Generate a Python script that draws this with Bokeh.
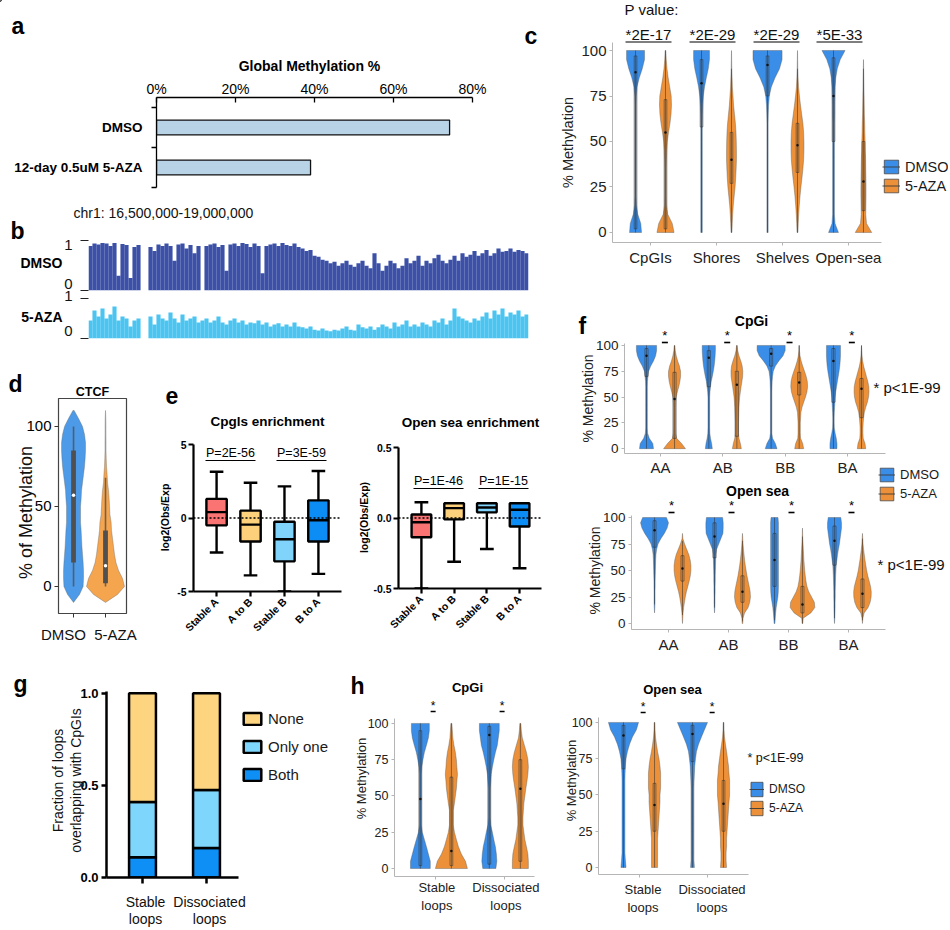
import math
from bokeh.plotting import figure
from bokeh.models import (Range1d, LinearAxis, FixedTicker, Label, Span,
                          Legend, LegendItem, ColumnDataSource, GridBox)
from bokeh.layouts import row, column
from bokeh.embed import file_html
from bokeh.resources import INLINE

FONT = "Liberation Sans"
PAGE_W, PAGE_H = 948, 928

# ======================= DATA =======================
# a: global methylation
a_groups = ["DMSO", "12-day 0.5uM 5-AZA"]
a_values = [0.742, 0.39]
a_tick_values = [0.0, 0.2, 0.4, 0.6, 0.8]
a_tick_labels = ["0%", "20%", "40%", "60%", "80%"]

# b: genome track chr1 16.5-19.0 Mb (mean methylation per bin)
b_region = "chr1: 16,500,000-19,000,000"
b_start_mb = 16.5
b_end_mb = 19.0
b_tick_labels = ["0", "1"]
b_dmso = [0.9, 0.95, 0.93, 0.96, 0.95, 0.9, 0.96, 0.3, 0.94, 0.92,
          0.25, 0.88, 0.92, 0, 0, 0.88, 0.8, 0.93, 0.9, 0.95,
          0.9, 0.6, 0.93, 0.95, 0.85, 0.92, 0.75, 0.9, 0, 0.9,
          0.93, 0.95, 0.88, 0.92, 0.4, 0.93, 0.95, 0.9, 0.96, 0.94,
          0.88, 0.95, 0.9, 0.35, 0.9, 0.93, 0.95, 0.9, 0.96, 0.92,
          0.9, 0.95, 0.88, 0.85, 0.8, 0.82, 0.7, 0.68, 0.62, 0.6,
          0.55, 0.58, 0.5, 0.55, 0.6, 0.52, 0.48, 0.55, 0.6, 0.5,
          0.45, 0.75, 0.55, 0.4, 0.5, 0.6, 0.55, 0.45, 0.5, 0.65,
          0.55, 0.6, 0.7, 0.5, 0.6, 0.55, 0.65, 0.72, 0.6, 0.55,
          0.62, 0.7, 0.6, 0.75, 0.68, 0.72, 0.8, 0.7, 0.75, 0.82,
          0.7, 0.75, 0.85, 0.78, 0.8, 0.85, 0.78, 0.82, 0.8, 0.75]
b_aza = [0.45, 0.7, 0.55, 0.75, 0.5, 0.6, 0.8, 0.45, 0.55, 0.5,
         0.3, 0.45, 0.5, 0, 0, 0.55, 0.35, 0.6, 0.5, 0.45,
         0.65, 0.5, 0.4, 0.6, 0.45, 0.5, 0.55, 0.4, 0.45, 0.5,
         0.4, 0.45, 0.55, 0.4, 0.35, 0.45, 0.5, 0.4, 0.45, 0.35,
         0.4, 0.38, 0.45, 0.35, 0.4, 0.3, 0.35, 0.38, 0.3, 0.35,
         0.3, 0.4, 0.3, 0.28, 0.25, 0.3, 0.22, 0.2, 0.25, 0.2,
         0.18, 0.22, 0.2, 0.25, 0.3, 0.22, 0.2, 0.35, 0.28, 0.25,
         0.3, 0.22, 0.28, 0.35, 0.3, 0.25, 0.4, 0.3, 0.35, 0.45,
         0.3, 0.35, 0.3, 0.4, 0.35, 0.3, 0.45, 0.4, 0.5, 0.35,
         0.45, 0.75, 0.55, 0.5, 0.45, 0.4, 0.5, 0.45, 0.55, 0.65,
         0.5, 0.7, 0.6, 0.75, 0.55, 0.65, 0.6, 0.7, 0.55, 0.6]

# common violin y levels (% methylation)
violin_levels = [0, 5, 10, 15, 20, 25, 30, 35, 40, 45, 50,
                 55, 60, 65, 70, 75, 80, 85, 90, 95, 100]
pct_ticks = [0, 25, 50, 75, 100]
pct_labels = ["0", "25", "50", "75", "100"]

# c: methylation by region
c_regions = ["CpGIs", "Shores", "Shelves", "Open-sea"]
c_pvalues = ["*2E-17", "*2E-29", "*2E-29", "*5E-33"]
c_dmso_density = [
    [0.4, 0.35, 0.15, 0.06, 0.04, 0.04, 0.04, 0.04, 0.04, 0.04, 0.04, 0.04, 0.04, 0.04, 0.04, 0.05, 0.1, 0.25, 0.45, 0.6, 0.6],
    [0.05, 0.05, 0.05, 0.05, 0.05, 0.05, 0.05, 0.05, 0.05, 0.05, 0.05, 0.05, 0.05, 0.06, 0.08, 0.12, 0.2, 0.32, 0.45, 0.53, 0.53],
    [0.04, 0.04, 0.04, 0.04, 0.04, 0.04, 0.04, 0.04, 0.04, 0.04, 0.04, 0.04, 0.04, 0.05, 0.07, 0.12, 0.25, 0.5, 0.8, 0.97, 0.97],
    [0.33, 0.1, 0.06, 0.06, 0.06, 0.06, 0.06, 0.06, 0.06, 0.06, 0.06, 0.06, 0.06, 0.07, 0.07, 0.08, 0.1, 0.15, 0.25, 0.45, 0.77],
]
c_aza_density = [
    [0.57, 0.45, 0.15, 0.06, 0.05, 0.05, 0.05, 0.05, 0.06, 0.08, 0.12, 0.2, 0.3, 0.37, 0.4, 0.38, 0.28, 0.18, 0.1, 0.05, 0.02],
    [0.03, 0.05, 0.08, 0.12, 0.18, 0.24, 0.28, 0.31, 0.33, 0.33, 0.32, 0.3, 0.26, 0.2, 0.14, 0.1, 0.06, 0.04, 0.02, 0.01, 0.0],
    [0.03, 0.05, 0.08, 0.12, 0.17, 0.23, 0.3, 0.36, 0.41, 0.43, 0.43, 0.41, 0.36, 0.28, 0.2, 0.13, 0.07, 0.04, 0.02, 0.01, 0.0],
    [0.55, 0.2, 0.15, 0.16, 0.17, 0.17, 0.16, 0.15, 0.14, 0.12, 0.11, 0.09, 0.08, 0.06, 0.05, 0.04, 0.03, 0.02, 0.01, 0.0, 0.0],
]
# (min, q1, median, q3, max)
c_dmso_stats = [(0, 2, 88, 97, 100), (0, 58, 82, 95, 100), (0, 75, 92, 97, 100), (0, 50, 75, 96, 100)]
c_aza_stats = [(0, 2, 55, 73, 100), (0, 27, 40, 55, 90), (0, 33, 48, 60, 90), (0, 12, 28, 50, 90)]

# d: CTCF sites
d_groups = ["DMSO", "5-AZA"]
d_levels = [-10, -5, 0, 5, 10, 15, 20, 25, 30, 35, 40, 45, 50,
            55, 60, 65, 70, 75, 80, 85, 90, 95, 100, 105, 110]
d_dmso_density = [0, 0.3, 0.48, 0.5, 0.5, 0.48, 0.45, 0.42, 0.4, 0.38, 0.35, 0.35, 0.35,
                  0.38, 0.4, 0.45, 0.5, 0.55, 0.58, 0.6, 0.6, 0.55, 0.45, 0.25, 0.03]
d_aza_density = [0, 0.6, 0.95, 0.85, 0.65, 0.52, 0.45, 0.4, 0.35, 0.3, 0.28, 0.22, 0.2,
                 0.18, 0.15, 0.1, 0.08, 0.05, 0.035, 0.025, 0.025, 0.02, 0.02, 0.015, 0]
d_stats = [(0, 15, 57, 85, 100), (0, 2, 13, 35, 68)]

# e: enrichment box plots (min, q1, median, q3, max)
e_groups = ["Stable A", "A to B", "Stable B", "B to A"]
e_cpg_stats = [(-2.35, -0.5, 0.4, 1.3, 3.15), (-3.9, -1.6, -0.45, 0.5, 2.4),
               (-5.0, -2.95, -1.45, -0.25, 2.15), (-3.8, -1.6, -0.15, 1.2, 3.2)]
e_open_stats = [(-0.5, -0.136, -0.03, 0.025, 0.112), (-0.31, -0.01, 0.07, 0.105, 0.105),
                (-0.22, 0.04, 0.074, 0.105, 0.105), (-0.356, -0.06, 0.058, 0.105, 0.105)]
e_cpg_pvalues = ["P=2E-56", "P=3E-59"]
e_open_pvalues = ["P=1E-46", "P=1E-15"]

# f: compartment switching
f_groups = ["AA", "AB", "BB", "BA"]
f_cpg_dmso_density = [
    [0.5, 0.45, 0.2, 0.08, 0.06, 0.06, 0.06, 0.06, 0.06, 0.06, 0.06, 0.06, 0.06, 0.07, 0.1, 0.15, 0.3, 0.5, 0.65, 0.72, 0.72],
    [0.25, 0.2, 0.12, 0.07, 0.06, 0.06, 0.06, 0.06, 0.06, 0.06, 0.06, 0.08, 0.12, 0.17, 0.25, 0.32, 0.38, 0.42, 0.45, 0.47, 0.47],
    [0.42, 0.3, 0.1, 0.05, 0.05, 0.05, 0.05, 0.05, 0.05, 0.05, 0.05, 0.05, 0.06, 0.07, 0.1, 0.15, 0.3, 0.55, 0.85, 1.0, 1.0],
    [0.25, 0.25, 0.2, 0.12, 0.06, 0.05, 0.05, 0.06, 0.08, 0.1, 0.12, 0.16, 0.22, 0.28, 0.34, 0.4, 0.45, 0.48, 0.5, 0.5, 0.5],
]
f_cpg_aza_density = [
    [0.78, 0.5, 0.15, 0.08, 0.07, 0.07, 0.07, 0.07, 0.07, 0.08, 0.12, 0.2, 0.3, 0.38, 0.43, 0.43, 0.35, 0.22, 0.12, 0.05, 0.02],
    [0.32, 0.25, 0.15, 0.12, 0.12, 0.12, 0.13, 0.14, 0.15, 0.17, 0.2, 0.25, 0.3, 0.36, 0.41, 0.42, 0.38, 0.28, 0.15, 0.06, 0.02],
    [0.32, 0.25, 0.1, 0.08, 0.08, 0.08, 0.1, 0.12, 0.2, 0.32, 0.45, 0.55, 0.6, 0.58, 0.5, 0.38, 0.25, 0.14, 0.06, 0.02, 0.01],
    [0.3, 0.25, 0.12, 0.1, 0.1, 0.12, 0.15, 0.2, 0.3, 0.42, 0.5, 0.53, 0.52, 0.45, 0.35, 0.25, 0.15, 0.08, 0.04, 0.02, 0.0],
]
f_cpg_dmso_stats = [(0, 70, 90, 97, 100), (0, 60, 88, 95, 100), (0, 80, 92, 97, 100), (0, 45, 85, 97, 100)]
f_cpg_aza_stats = [(0, 10, 48, 74, 100), (0, 12, 62, 75, 100), (0, 52, 64, 74, 100), (0, 30, 58, 68, 100)]
f_open_dmso_density = [
    [0, 0, 0, 0.02, 0.03, 0.03, 0.03, 0.04, 0.04, 0.05, 0.06, 0.07, 0.08, 0.1, 0.15, 0.25, 0.45, 0.7, 0.9, 1.0, 0.85],
    [0, 0, 0, 0.02, 0.03, 0.03, 0.04, 0.04, 0.05, 0.05, 0.06, 0.07, 0.08, 0.1, 0.15, 0.3, 0.45, 0.6, 0.62, 0.62, 0.58],
    [0.03, 0.05, 0.08, 0.12, 0.18, 0.24, 0.27, 0.28, 0.28, 0.28, 0.28, 0.28, 0.28, 0.28, 0.28, 0.28, 0.28, 0.28, 0.28, 0.28, 0.25],
    [0, 0.02, 0.03, 0.04, 0.04, 0.05, 0.05, 0.06, 0.07, 0.08, 0.1, 0.12, 0.17, 0.22, 0.28, 0.35, 0.4, 0.45, 0.5, 0.5, 0.45],
]
f_open_aza_density = [
    [0, 0.02, 0.04, 0.08, 0.14, 0.2, 0.28, 0.38, 0.48, 0.56, 0.6, 0.6, 0.55, 0.45, 0.3, 0.15, 0.03, 0, 0, 0, 0],
    [0.02, 0.04, 0.15, 0.4, 0.52, 0.57, 0.55, 0.48, 0.4, 0.32, 0.26, 0.2, 0.15, 0.11, 0.07, 0.04, 0.02, 0, 0, 0, 0],
    [0.02, 0.05, 0.6, 0.88, 0.85, 0.65, 0.45, 0.32, 0.25, 0.2, 0.16, 0.13, 0.1, 0.08, 0.06, 0.04, 0.02, 0.01, 0, 0, 0],
    [0, 0.03, 0.12, 0.4, 0.55, 0.62, 0.63, 0.58, 0.48, 0.38, 0.3, 0.24, 0.18, 0.13, 0.08, 0.04, 0.02, 0, 0, 0, 0],
]
f_open_dmso_stats = [(18, 72, 88, 97, 100), (15, 62, 82, 95, 100), (3, 35, 60, 85, 100), (5, 55, 78, 92, 100)]
f_open_aza_stats = [(8, 40, 52, 64, 78), (2, 20, 30, 45, 78), (0, 10, 18, 35, 82), (3, 15, 28, 42, 80)]

# g: loops overlapping CpGIs
g_groups = ["Stable loops", "Dissociated loops"]
g_both = [0.11, 0.16]
g_only_one = [0.30, 0.315]
g_none = [0.59, 0.525]

# h: loops methylation
h_groups = ["Stable loops", "Dissociated loops"]
h_cpg_dmso_density = [
    [0.62, 0.62, 0.5, 0.38, 0.25, 0.12, 0.06, 0.06, 0.06, 0.06, 0.06, 0.06, 0.06, 0.06, 0.09, 0.16, 0.25, 0.38, 0.5, 0.56, 0.56],
    [0.41, 0.47, 0.44, 0.38, 0.28, 0.19, 0.09, 0.06, 0.06, 0.06, 0.06, 0.06, 0.09, 0.12, 0.19, 0.28, 0.38, 0.5, 0.56, 0.62, 0.62],
]
h_cpg_aza_density = [
    [1.0, 0.88, 0.62, 0.44, 0.31, 0.19, 0.12, 0.12, 0.12, 0.19, 0.25, 0.31, 0.34, 0.38, 0.34, 0.31, 0.25, 0.16, 0.09, 0.06, 0.03],
    [0.5, 0.5, 0.47, 0.38, 0.28, 0.22, 0.16, 0.16, 0.19, 0.22, 0.28, 0.34, 0.41, 0.47, 0.5, 0.47, 0.38, 0.25, 0.12, 0.06, 0.03],
]
h_cpg_dmso_stats = [(0, 2, 48, 95, 100), (0, 3, 92, 98, 100)]
h_cpg_aza_stats = [(0, 2, 12, 63, 100), (0, 5, 55, 75, 100)]
h_open_dmso_density = [
    [0.16, 0.12, 0.09, 0.09, 0.09, 0.09, 0.09, 0.09, 0.09, 0.09, 0.09, 0.09, 0.09, 0.1, 0.12, 0.16, 0.25, 0.38, 0.56, 0.81, 0.94],
    [0.12, 0.09, 0.09, 0.09, 0.09, 0.09, 0.09, 0.09, 0.09, 0.09, 0.09, 0.09, 0.1, 0.12, 0.14, 0.19, 0.25, 0.38, 0.56, 0.75, 0.94],
]
h_open_aza_density = [
    [0.19, 0.19, 0.19, 0.19, 0.19, 0.22, 0.25, 0.28, 0.31, 0.34, 0.34, 0.38, 0.38, 0.38, 0.34, 0.28, 0.19, 0.12, 0.06, 0.03, 0.02],
    [0.19, 0.16, 0.16, 0.19, 0.19, 0.22, 0.25, 0.28, 0.31, 0.34, 0.38, 0.38, 0.38, 0.34, 0.31, 0.25, 0.19, 0.12, 0.06, 0.03, 0.02],
]
h_open_dmso_stats = [(0, 68, 91, 98, 100), (0, 73, 92, 98, 100)]
h_open_aza_stats = [(0, 25, 43, 58, 100), (0, 25, 44, 60, 100)]

# ======================= STYLE =======================
BLUE = "#3b8ee8"
ORANGE = "#ec9139"
GRAYAX = "#b5b5b5"
E_COLORS = ["#fa7474", "#fdd17c", "#80d4fb", "#0c8df5"]
G_COLORS = ["#0d8ff5", "#7fd6fc", "#fdd47f"]
HALF = math.pi / 2


# ======================= HELPERS =======================
class Panel:
    """A figure occupying page rect `rect`, with its plot frame at page rect `frame`."""

    def __init__(self, rect, frame, xr, yr, outline=None, outline_width=1.0):
        x0, y0, x1, y1 = rect
        fl, ft, fr, fb = frame
        self.fl, self.ft, self.fr, self.fb = fl, ft, fr, fb
        self.xr, self.yr = xr, yr
        self.p = figure(width=x1 - x0, height=y1 - y0,
                        x_range=Range1d(xr[0], xr[1]), y_range=Range1d(yr[0], yr[1]),
                        x_axis_location=None, y_axis_location=None,
                        toolbar_location=None, output_backend="svg",
                        min_border_left=fl - x0, min_border_right=x1 - fr,
                        min_border_top=ft - y0, min_border_bottom=y1 - fb,
                        outline_line_color=outline, outline_line_width=outline_width)
        self.p.grid.visible = False
        self.sx = (fr - fl) / (xr[1] - xr[0])
        self.sy = (fb - ft) / (yr[1] - yr[0])

    def px(self, dx):   # data x -> page x
        return self.fl + (dx - self.xr[0]) * self.sx

    def py(self, dy):   # data y -> page y
        return self.fb - (dy - self.yr[0]) * self.sy


def add_axis(P, side, ticks, labels=None, size=14, bold=False, text_color="#000000",
             line_color="#000000", line_width=1.0, tick_color=None, tick_out=4,
             tick_in=0, standoff=4, orient="horizontal", minor=None, minor_out=0,
             text_alpha=1.0):
    ax = LinearAxis(ticker=FixedTicker(ticks=list(ticks), minor_ticks=list(minor or [])))
    tc = tick_color if tick_color is not None else line_color
    ax.axis_line_color = line_color
    ax.axis_line_width = line_width
    ax.major_tick_line_color = tc
    ax.major_tick_line_width = line_width
    ax.major_tick_out = tick_out
    ax.major_tick_in = tick_in
    ax.minor_tick_line_color = tc
    ax.minor_tick_line_width = line_width
    ax.minor_tick_out = minor_out
    ax.minor_tick_in = 0
    ax.major_label_text_font = FONT
    ax.major_label_text_font_size = f"{size}px"
    ax.major_label_text_font_style = "bold" if bold else "normal"
    ax.major_label_text_color = text_color
    ax.major_label_text_alpha = text_alpha
    ax.major_label_standoff = standoff
    ax.major_label_orientation = orient
    if labels is not None:
        ax.major_label_overrides = {t: l for t, l in zip(ticks, labels)}
    P.p.add_layout(ax, side)
    return ax


def violins(P, centers, dens_list, levels, scale, color, stats, box_w,
            edge="#555555", inner="#333333", med_color="#111111", med_size=2.5,
            box_fill=None, whisk_w=0.7, box_line_w=0.7):
    xs, ys = [], []
    for c, dens in zip(centers, dens_list):
        nz = [i for i, d in enumerate(dens) if d > 0]
        i0 = max(nz[0] - 1, 0)
        i1 = min(nz[-1] + 1, len(dens) - 1)
        lv = list(levels[i0:i1 + 1])
        dv = list(dens[i0:i1 + 1])
        xs.append([c + d * scale for d in dv] + [c - d * scale for d in dv[::-1]])
        ys.append(lv + lv[::-1])
    P.p.patches(xs, ys, fill_color=color, line_color=edge, line_alpha=0.55, line_width=0.7)
    lo = [s[0] for s in stats]
    q1 = [s[1] for s in stats]
    md = [s[2] for s in stats]
    q3 = [s[3] for s in stats]
    hi = [s[4] for s in stats]
    P.p.segment(x0=centers, y0=lo, x1=centers, y1=hi, line_color=inner,
                line_width=whisk_w, line_alpha=0.8)
    if box_fill is None:
        P.p.vbar(x=centers, bottom=q1, top=q3, width=box_w, fill_alpha=0,
                 line_color=inner, line_width=box_line_w, line_alpha=0.8)
    else:
        P.p.vbar(x=centers, bottom=q1, top=q3, width=box_w, fill_color=box_fill,
                 line_color=None)
    P.p.scatter(x=centers, y=md, size=med_size, color=med_color, line_color=None)


def boxplots(P, stats, colors, bw, cw, lw=2.4):
    xs = [i + 1 for i in range(len(stats))]
    lo = [s[0] for s in stats]
    q1 = [s[1] for s in stats]
    md = [s[2] for s in stats]
    q3 = [s[3] for s in stats]
    hi = [s[4] for s in stats]
    P.p.segment(x0=xs, y0=q3, x1=xs, y1=hi, line_color="black", line_width=lw)
    P.p.segment(x0=xs, y0=lo, x1=xs, y1=q1, line_color="black", line_width=lw)
    P.p.segment(x0=[x - cw / 2 for x in xs], y0=hi, x1=[x + cw / 2 for x in xs], y1=hi,
                line_color="black", line_width=lw)
    P.p.segment(x0=[x - cw / 2 for x in xs], y0=lo, x1=[x + cw / 2 for x in xs], y1=lo,
                line_color="black", line_width=lw)
    P.p.vbar(x=xs, bottom=q1, top=q3, width=bw, fill_color=colors, line_color="black",
             line_width=lw)
    P.p.segment(x0=[x - bw / 2 for x in xs], y0=md, x1=[x + bw / 2 for x in xs], y1=md,
                line_color="black", line_width=lw)


# ---- transparent overlay for all free text (page pixel coordinates) ----
OV = figure(width=PAGE_W, height=PAGE_H, x_range=Range1d(0, PAGE_W),
            y_range=Range1d(PAGE_H, 0), x_axis_location=None, y_axis_location=None,
            toolbar_location=None, output_backend="svg",
            min_border=0, min_border_left=0, min_border_right=0,
            min_border_top=0, min_border_bottom=0, outline_line_color=None,
            background_fill_alpha=0, border_fill_alpha=0)
OV.grid.visible = False


def T(x, y, s, size, bold=False, align="center", base="middle", angle=0.0,
      color="#000000"):
    OV.add_layout(Label(x=x, y=y, text=s, text_font=FONT, text_font_size=f"{size}px",
                        text_font_style="bold" if bold else "normal",
                        text_align=align, text_baseline=base, angle=angle,
                        text_color=color))


ul_x0, ul_x1, ul_y, ul_w = [], [], [], []


def UL(x0, x1, y, w=1.1):
    ul_x0.append(x0)
    ul_x1.append(x1)
    ul_y.append(y)
    ul_w.append(w)


def LETTER(x, y, s):
    T(x, y, s, 23, bold=True, align="left", base="alphabetic")


def ov_legend(entries, left, bottom, gw, gh, size, spacing):
    items = [LegendItem(label=lab, renderers=rs) for lab, rs in entries]
    lg = Legend(items=items, location=(left, PAGE_H - bottom), orientation="vertical",
                glyph_width=gw, glyph_height=gh, label_height=gh, label_width=10,
                spacing=spacing, padding=0, margin=0, border_line_color=None,
                background_fill_alpha=0, label_text_font=FONT,
                label_text_color="#1a1a1a",
                label_text_font_size=f"{size}px", label_standoff=5)
    OV.add_layout(lg, "center")


# key glyphs for the legends: one element each, placed outside the visible page
KEY_X = [-60, -50, -50, -60]
KEY_Y = [-60, -60, -50, -50]


def violin_key(color):
    r1 = OV.patches(xs=[KEY_X], ys=[KEY_Y], fill_color=color, line_color="#4a4a4a",
                    line_alpha=0.8, line_width=1.0)
    r2 = OV.segment(x0=[-60], y0=[-55], x1=[-50], y1=[-55], line_color="#3a3a3a",
                    line_width=0.9)
    return [r1, r2]


# ======================= PANEL a =======================
A = Panel((0, 0, 555, 190), (156, 97, 472, 187), (0, 0.8), (0, 2.25))
a_y = [len(a_groups) - i - 0.5 for i in range(len(a_groups))]
A.p.hbar(y=a_y, left=0, right=a_values, height=0.37, fill_color="#b9d3e6",
         line_color="#111111", line_width=1.3)
add_axis(A, "above", a_tick_values, a_tick_labels, size=14, tick_out=0, tick_in=5,
         standoff=1, line_width=1.3)
add_axis(A, "left", a_y, a_groups, size=13.5, bold=True, tick_out=0, standoff=9,
         minor=[0, 1, 2], minor_out=5, line_width=1.3)
LETTER(11, 25, "a")
T(309, 65, "Global Methylation %", 14, bold=True)

# ======================= PANEL b =======================
b_bin = (b_end_mb - b_start_mb) / len(b_dmso)
b_x = [b_start_mb + (i + 0.5) * b_bin for i in range(len(b_dmso))]
B1 = Panel((0, 190, 555, 294), (88, 238, 528, 290), (b_start_mb, b_end_mb), (0, 1.05))
B1.p.vbar(x=b_x, bottom=0, top=b_dmso, width=b_bin * 1.03, fill_color="#3b50a6",
          line_color=None)
add_axis(B1, "left", [0, 1], ["", ""], size=8, line_color=None, tick_color="#222222",
         tick_out=8, standoff=2, line_width=1.2, text_alpha=0)
B2 = Panel((0, 294, 555, 350), (88, 298, 528, 338), (b_start_mb, b_end_mb), (0, 1.0))
B2.p.vbar(x=b_x, bottom=0, top=b_aza, width=b_bin * 1.03, fill_color="#4cc4f0",
          line_color=None)
add_axis(B2, "left", [0, 1], ["", ""], size=8, line_color=None, tick_color="#222222",
         tick_out=8, standoff=2, line_width=1.2, text_alpha=0)
for P_, ys_ in ((B1, (283, 244)), (B2, (330, 295))):
    for lab, yy in zip(b_tick_labels, ys_):
        T(72, yy, lab, 15, align="right", color="#111111")
LETTER(10, 230, "b")
T(73, 212, b_region, 14, align="left", color="#111111")
T(62, 262, "DMSO", 14, bold=True, align="right")
T(62, 316, "5-AZA", 14, bold=True, align="right")

# ======================= PANEL c =======================
C = Panel((555, 0, 948, 300), (612, 42, 881, 242), (0.424, 4.5), (-5.5, 104.4))
c_off = 0.227
violins(C, [i + 1 - c_off for i in range(4)], c_dmso_density, violin_levels, 0.227,
        BLUE, c_dmso_stats, 0.04)
violins(C, [i + 1 + c_off for i in range(4)], c_aza_density, violin_levels, 0.227,
        ORANGE, c_aza_stats, 0.04)
add_axis(C, "left", pct_ticks, pct_labels, size=15, text_color="#222222",
         line_color=GRAYAX, tick_out=3, standoff=3)
add_axis(C, "below", [1, 2, 3, 4], c_regions, size=15, text_color="#222222",
         line_color=GRAYAX, tick_out=3, standoff=3)
LETTER(524, 35, "c")
T(567, 142, "% Methylation", 14.5, angle=HALF, color="#222222")
T(624, 9, "P value:", 15, align="left", color="#111111")
for px_, pv in zip([648, 712, 776, 839], c_pvalues):
    T(px_, 34, pv, 15, color="#111111")
    UL(px_ - 23, px_ + 23, 41.5)
ov_legend([("DMSO", violin_key(BLUE)), ("5-AZA", violin_key(ORANGE))],
          882, 194, 18, 17, 14.5, 2)

# ======================= PANEL d =======================
D = Panel((0, 350, 150, 655), (58, 398, 126, 613), (0.53, 2.656), (-16.9, 117.5),
          outline="#444444", outline_width=1.2)
violins(D, [1], [d_dmso_density], d_levels, 0.625, "#4d9be8", [d_stats[0]], 0.15,
        edge="#666666", inner="#505050", med_color="#ffffff", med_size=3.5,
        box_fill="#505050", whisk_w=1.6)
violins(D, [2], [d_aza_density], d_levels, 0.625, "#f6a54f", [d_stats[1]], 0.15,
        edge="#666666", inner="#505050", med_color="#ffffff", med_size=3.5,
        box_fill="#505050", whisk_w=1.6)
add_axis(D, "left", [0, 50, 100], ["0", "50", "100"], size=15, line_color=None,
         tick_color="#333333", tick_out=4, standoff=3)
add_axis(D, "below", [1, 2], ["", ""], size=8, line_color=None, tick_color="#333333",
         tick_out=4, standoff=2, text_alpha=0)
LETTER(8, 383, "d")
T(92, 391, "CTCF", 12.5, bold=True)
T(25, 512, "% of Methylation", 18, angle=HALF, color="#111111")
T(63, 634, d_groups[0], 15, color="#111111")
T(115, 634, d_groups[1], 15, color="#111111")

# ======================= PANEL e =======================
E1 = Panel((150, 350, 352, 655), (193, 444, 341, 591), (0.32, 4.68), (-5, 5))
E1.p.add_layout(Span(location=0, dimension="width", line_dash="2 2", line_width=1.5,
                     line_color="black"))
boxplots(E1, e_cpg_stats, E_COLORS, 0.6, 0.4)
add_axis(E1, "left", [-5, 0, 5], ["-5", "0", "5"], size=10.5, bold=True, line_width=2.2,
         tick_out=5, standoff=2)
add_axis(E1, "below", [1, 2, 3, 4], e_groups, size=10.5, bold=True, line_width=2.2,
         tick_out=5, standoff=3, orient=math.pi / 4)
LETTER(165, 395, "e")
T(267, 421, "Cpgls enrichment", 13.5, bold=True)
T(164, 517, "log2(Obs/Exp", 10.5, bold=True, angle=HALF)
for px_, pv in zip([230, 301], e_cpg_pvalues):
    T(px_, 452, pv, 12.5)
    UL(px_ - 25, px_ + 25, 460, 1.0)

E2 = Panel((352, 350, 555, 655), (398, 447, 541, 588), (0.3, 4.67), (-0.5, 0.5))
E2.p.add_layout(Span(location=0, dimension="width", line_dash="2 2", line_width=1.5,
                     line_color="black"))
boxplots(E2, e_open_stats, E_COLORS, 0.6, 0.42)
add_axis(E2, "left", [-0.5, 0, 0.5], ["-0.5", "0.0", "0.5"], size=10.5, bold=True,
         line_width=2.2, tick_out=5, standoff=2)
add_axis(E2, "below", [1, 2, 3, 4], e_groups, size=10.5, bold=True, line_width=2.2,
         tick_out=5, standoff=3, orient=math.pi / 4)
T(470, 422, "Open sea enrichment", 13.5, bold=True)
T(363, 517, "log2(Obs/Exp)", 10.5, bold=True, angle=HALF)
for px_, pv in zip([438, 503], e_open_pvalues):
    T(px_, 480, pv, 12.5)
    UL(px_ - 25, px_ + 25, 488, 1.0)

# ======================= PANEL f =======================
F1 = Panel((555, 300, 948, 478), (624, 343, 885, 457), (0.422, 4.61), (-4.7, 101.9))
f1_off = 0.225
violins(F1, [i + 1 - f1_off for i in range(4)], f_cpg_dmso_density, violin_levels,
        0.225, BLUE, f_cpg_dmso_stats, 0.05)
violins(F1, [i + 1 + f1_off for i in range(4)], f_cpg_aza_density, violin_levels,
        0.225, ORANGE, f_cpg_aza_stats, 0.05)
add_axis(F1, "left", pct_ticks, pct_labels, size=13.5, text_color="#222222",
         line_color=GRAYAX, tick_out=3, standoff=3)
add_axis(F1, "below", [1, 2, 3, 4], f_groups, size=15, text_color="#222222",
         line_color=GRAYAX, tick_out=3, standoff=2)
LETTER(578, 325, "f")
T(751, 320, "CpGi", 14, bold=True)
T(587, 398, "% Methylation", 14, angle=HALF, color="#222222")
for i in range(4):
    sx_ = F1.px(i + 1 + 0.07)
    T(sx_, 335, "*", 13)
    UL(sx_ - 3, sx_ + 3, 342, 1.6)
T(873, 387, "* p<1E-99", 15, align="left", color="#111111")

F2 = Panel((555, 478, 948, 655), (631, 515, 885, 629), (0.383, 4.617), (-5.66, 101.9))
f2_off = 0.233
violins(F2, [i + 1 - f2_off for i in range(4)], f_open_dmso_density, violin_levels,
        0.233, BLUE, f_open_dmso_stats, 0.05)
violins(F2, [i + 1 + f2_off for i in range(4)], f_open_aza_density, violin_levels,
        0.233, ORANGE, f_open_aza_stats, 0.05)
add_axis(F2, "left", pct_ticks, pct_labels, size=13.5, text_color="#222222",
         line_color=GRAYAX, tick_out=3, standoff=3)
add_axis(F2, "below", [1, 2, 3, 4], f_groups, size=15, text_color="#222222",
         line_color=GRAYAX, tick_out=3, standoff=3)
T(757, 490, "Open sea", 14, bold=True)
T(594, 570, "% Methylation", 14, angle=HALF, color="#222222")
for i in range(4):
    sx_ = F2.px(i + 1 + 0.05)
    T(sx_, 505, "*", 13)
    UL(sx_ - 3, sx_ + 3, 512, 1.6)
T(877, 564, "* p<1E-99", 15, align="left", color="#111111")
ov_legend([("DMSO", violin_key(BLUE)), ("5-AZA", violin_key(ORANGE))],
          878, 502, 17, 17, 13, 2)

# ======================= PANEL g =======================
G = Panel((0, 655, 330, 928), (106, 691, 238, 877), (0.4375, 2.5), (0, 1.01))
g_x = [i + 1 for i in range(len(g_groups))]
g_src = ColumnDataSource(dict(x=g_x, both=g_both, only_one=g_only_one, none=g_none))
G.p.vbar_stack(["both", "only_one", "none"], x="x", width=0.42, source=g_src,
               fill_color=G_COLORS, line_color="black", line_width=2.5)
add_axis(G, "left", [0, 0.5, 1], ["0.0", "0.5", "1.0"], size=13, bold=True,
         line_width=2.5, tick_out=5, standoff=3)
add_axis(G, "below", g_x, ["", ""], size=8, line_width=2.5, tick_out=6, standoff=2,
         text_alpha=0)
for gx, gl in zip(g_x, g_groups):
    w1, w2 = gl.split(" ")
    cx = G.px(gx) + 3
    T(cx, 901, w1, 14, color="#111111")
    T(cx, 918, w2, 14, color="#111111")
T(57, 780, "Fraction of loops", 14, angle=HALF, color="#111111")
T(75, 780, "overlapping with CpGIs", 14, angle=HALF, color="#111111")
LETTER(13, 683, "g")
g_keys = [OV.vbar(x=[-55], bottom=[-60], top=[-50], width=10, fill_color=c,
                  line_color="black", line_width=2.5) for c in G_COLORS]
ov_legend([("None", [g_keys[2]]), ("Only one", [g_keys[1]]), ("Both", [g_keys[0]])],
          241, 783, 22, 15, 15, 11)

# ======================= PANEL h =======================
H1 = Panel((330, 655, 550, 928), (394, 718, 534, 876), (0.4, 2.43), (-5.5, 103.4))
h_off = 0.225
violins(H1, [i + 1 - h_off for i in range(2)], h_cpg_dmso_density, violin_levels,
        0.232, BLUE, h_cpg_dmso_stats, 0.04)
violins(H1, [i + 1 + h_off for i in range(2)], h_cpg_aza_density, violin_levels,
        0.232, ORANGE, h_cpg_aza_stats, 0.04)
add_axis(H1, "left", pct_ticks, pct_labels, size=12.5, text_color="#222222",
         line_color=GRAYAX, tick_out=3, standoff=3)
add_axis(H1, "below", [1, 2], ["", ""], size=8, line_color=GRAYAX, tick_out=3,
         standoff=2, text_alpha=0)
for i, gl in enumerate(h_groups):
    w1, w2 = gl.split(" ")
    cx = H1.px(i + 1) + 1
    T(cx, 887, w1, 13, color="#222222")
    T(cx, 905, w2, 13, color="#222222")
LETTER(350, 685, "h")
T(467, 687, "CpGi", 13, bold=True)
T(361, 778, "% Methylation", 13, angle=HALF, color="#222222")
for i in range(2):
    sx_ = H1.px(i + 1 - 0.04)
    T(sx_, 705, "*", 12)
    UL(sx_ - 2.5, sx_ + 2.5, 711, 1.5)

H2 = Panel((550, 655, 948, 928), (598, 717, 748, 874), (0.413, 2.587), (-4.83, 103.4))
violins(H2, [i + 1 - h_off for i in range(2)], h_open_dmso_density, violin_levels,
        0.232, BLUE, h_open_dmso_stats, 0.04)
violins(H2, [i + 1 + h_off for i in range(2)], h_open_aza_density, violin_levels,
        0.232, ORANGE, h_open_aza_stats, 0.04)
add_axis(H2, "left", pct_ticks, pct_labels, size=12.5, text_color="#222222",
         line_color=GRAYAX, tick_out=3, standoff=3)
add_axis(H2, "below", [1, 2], ["", ""], size=8, line_color=GRAYAX, tick_out=3,
         standoff=2, text_alpha=0)
for i, gl in enumerate(h_groups):
    w1, w2 = gl.split(" ")
    cx = H2.px(i + 1) + 4
    T(cx, 889, w1, 13, color="#222222")
    T(cx, 907, w2, 13, color="#222222")
T(672, 689, "Open sea", 13, bold=True)
T(571, 780, "% Methylation", 13, angle=HALF, color="#222222")
for i in range(2):
    sx_ = H2.px(i + 1 + 0.06)
    T(sx_, 706, "*", 12)
    UL(sx_ - 2.5, sx_ + 2.5, 712, 1.5)
T(747, 757, "* p<1E-99", 12.5, align="left", color="#111111")
ov_legend([("DMSO", violin_key(BLUE)), ("5-AZA", violin_key(ORANGE))],
          749, 817, 15, 18, 12, 1)

# underlines / significance dashes in overlay
OV.segment(x0=ul_x0, y0=ul_y, x1=ul_x1, y1=ul_y, line_color="black", line_width=ul_w)


# ======================= LAYOUT =======================
def W(p):
    return column(p)


left = column(W(A.p), W(B1.p), W(B2.p), row(W(D.p), W(E1.p), W(E2.p)))
right = column(W(C.p), W(F1.p), W(F2.p))
bottom = row(W(G.p), W(H1.p), W(H2.p))
main = column(row(left, right), bottom)
root = GridBox(children=[(main, 0, 0), (OV, 0, 0)])
open("out.html", "w").write(file_html(root, INLINE))
